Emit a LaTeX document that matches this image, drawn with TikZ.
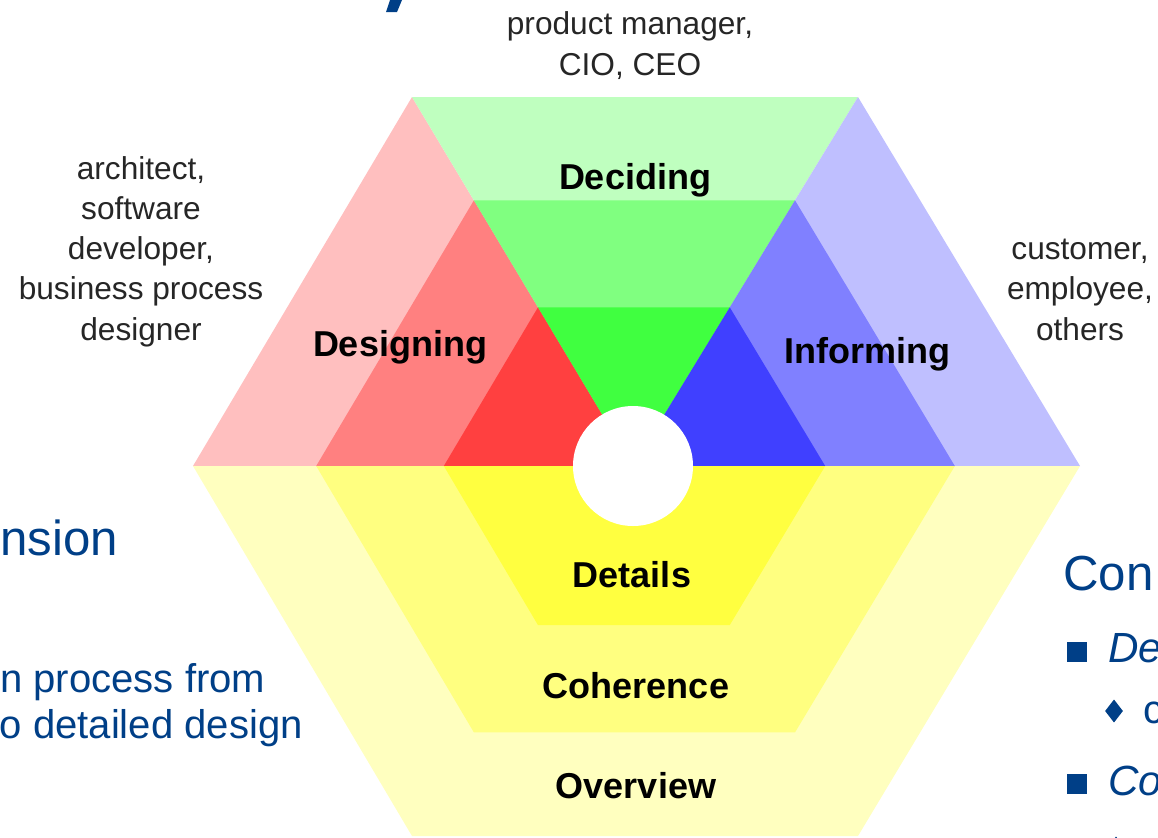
\documentclass[tikz,border=0pt]{standalone}
\usepackage{fontspec}
\setmainfont{Liberation Sans}
\usetikzlibrary{calc, positioning, shapes.geometric}

\definecolor{slideblue}{RGB}{0,63,135}
\definecolor{hexred}{RGB}{255,0,0}
\definecolor{hexgreen}{RGB}{0,255,0}
\definecolor{hexblue}{RGB}{0,0,255}
\definecolor{hexyellow}{RGB}{255,255,0}

\begin{document}
\begin{tikzpicture}[
    x=0.025cm, y=-0.025cm,
    role/.style={align=center, inner sep=0pt, anchor=base, text=black!85,
        font=\fontsize{22.5}{28.5}\selectfont},
    facet/.style={inner sep=0pt, anchor=base,
        font=\fontsize{25.6}{30}\selectfont\bfseries},
    slide/.style={inner sep=0pt, text=slideblue},
    sqbullet/.style={fill=slideblue, inner sep=0pt, minimum size=0.5cm},
    dmbullet/.style={diamond, fill=slideblue, inner sep=0pt,
        minimum width=0.45cm, minimum height=0.58cm}
]

    % Frame of the slide crop
    \useasboundingbox (0,0) rectangle (1158,837);
    \clip (0,0) rectangle (1158,837);

    % Hexagon corners and centre
    \coordinate (C)  at (633,466);
    \coordinate (L)  at (193,466);
    \coordinate (TL) at (412,97);
    \coordinate (TR) at (858,97);
    \coordinate (R)  at (1080,466);
    \coordinate (BR) at (858,836);
    \coordinate (BL) at (412,836);

    % Three shades per facet, scaled from the centre
    \foreach \f/\shade in {1/25, 0.72/50, 0.43/75} {
        % Designing (left triangle)
        \fill[hexred!\shade] (C) -- ($(C)!\f!(L)$) -- ($(C)!\f!(TL)$) -- cycle;
        % Deciding (top triangle)
        \fill[hexgreen!\shade] (C) -- ($(C)!\f!(TL)$) -- ($(C)!\f!(TR)$) -- cycle;
        % Informing (right triangle)
        \fill[hexblue!\shade] (C) -- ($(C)!\f!(TR)$) -- ($(C)!\f!(R)$) -- cycle;
        % Overview / Coherence / Details (lower half)
        \fill[hexyellow!\shade] ($(C)!\f!(L)$) -- ($(C)!\f!(R)$)
            -- ($(C)!\f!(BR)$) -- ($(C)!\f!(BL)$) -- cycle;
    }

    % Hole in the middle
    \fill[white] (C) circle (60);

    % Facet labels
    \node[facet] (deciding)  at (635,189) {Deciding};
    \node[facet] (designing) at (400,356) {Designing};
    \node[facet] (informing) at (867,363) {Informing};
    \node[facet] (details)   at (632,587) {Details};
    \node[facet] (coherence) at (636,698) {Coherence};
    \node[facet] (overview)  at (636,798) {Overview};

    % Roles (base = last line)
    \node[role] (roleTop)   at (630,75)  {product manager,\\CIO, CEO};
    \node[role] (roleLeft)  at (141,340) {architect,\\software\\developer,\\business process\\designer};
    \node[role] (roleRight) at (1080,340) {customer,\\employee,\\others};

    % Slide text cut by the crop
    \fill[slideblue] (390,0) -- (402,0) -- (397,12) -- (386,12) -- cycle;
    \node[slide, anchor=base west, font=\fontsize{35}{40}\selectfont]
        (headLeft) at (0,555) {nsion};
    \node[slide, anchor=base west, font=\fontsize{28.5}{33}\selectfont]
        (lineOne) at (0,692) {n process from};
    \node[slide, anchor=base east, font=\fontsize{28.5}{33}\selectfont]
        (lineTwo) at (303,738) {to detailed design};

    \node[slide, anchor=base west, font=\fontsize{35}{40}\selectfont]
        (headRight) at (1063,590) {Con};
    \node[sqbullet] (bulletA) at (1077,652) {};
    \node[slide, anchor=base west, font=\fontsize{30}{34}\selectfont\itshape]
        (itemA) at (1108,662) {De};
    \node[dmbullet] (subA) at (1114,711) {};
    \node[slide, anchor=base west, font=\fontsize{28.5}{33}\selectfont]
        (subItemA) at (1143,723) {c};
    \node[sqbullet] (bulletB) at (1077,784) {};
    \node[slide, anchor=base west, font=\fontsize{30}{34}\selectfont\itshape]
        (itemB) at (1108,795) {Co};
    \node[dmbullet] (subB) at (1116,848) {};

\end{tikzpicture}
\end{document}
